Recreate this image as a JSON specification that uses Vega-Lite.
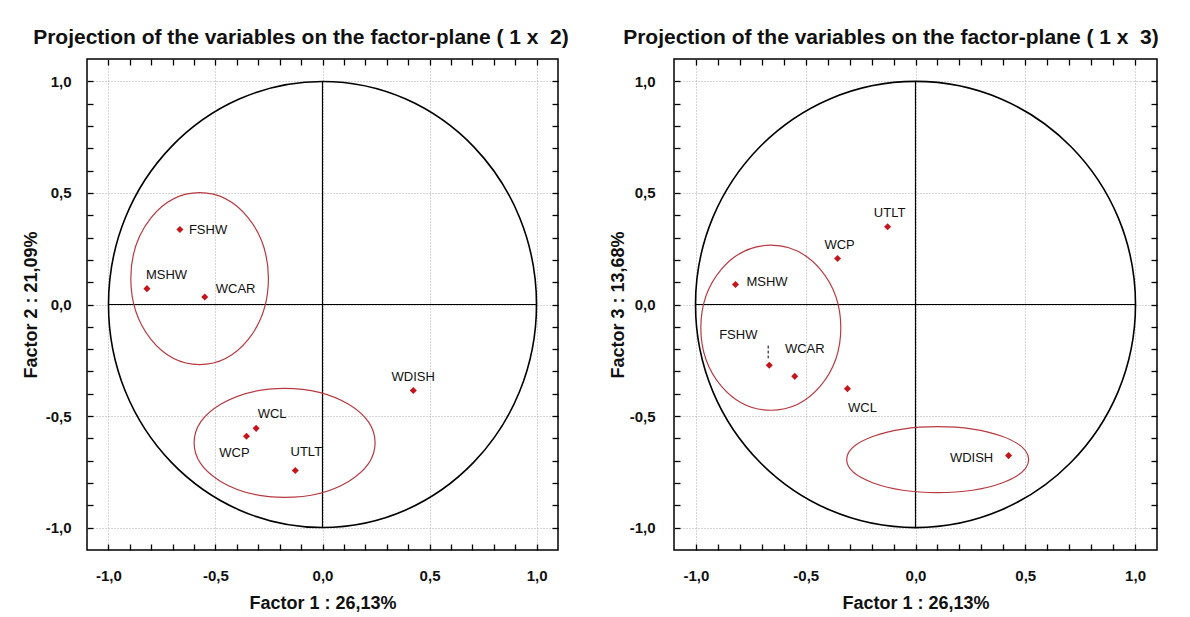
{
  "$schema": "https://vega.github.io/schema/vega-lite/v6.json",
  "background": "white",
  "padding": {"left": 21, "top": 26, "right": 5, "bottom": 5},
  "spacing": 38,
  "config": {
    "locale": {"number": {"decimal": ",", "thousands": ".", "grouping": [3], "currency": ["", ""], "minus": "-"}},
    "view": {"stroke": "#000", "strokeWidth": 1.5},
    "font": "Liberation Sans",
    "title": {"font": "Liberation Sans", "fontSize": 21, "fontWeight": "bold", "color": "#111", "anchor": "start", "offset": 10},
    "axis": {
      "labelFont": "Liberation Sans", "labelFontSize": 15, "labelFontWeight": "bold", "labelColor": "#111",
      "titleFont": "Liberation Sans", "titleFontSize": 18, "titleFontWeight": "bold", "titleColor": "#111",
      "ticks": true, "tickColor": "#000", "tickWidth": 1.3, "tickOpacity": 1, "domain": false, "labelOverlap": false, "labelFlush": false,
      "gridColor": "#aaa", "gridDash": [1, 2], "gridWidth": 1, "zindex": 1
    },
    "text": {"font": "Liberation Sans", "fontSize": 13, "color": "#111", "baseline": "middle"}
  },
  "datasets": {
    "pts": [
      {"name": "FSHW", "f1": -0.666, "f2": 0.336, "f3": -0.272},
      {"name": "MSHW", "f1": -0.82, "f2": 0.071, "f3": 0.09},
      {"name": "WCAR", "f1": -0.55, "f2": 0.034, "f3": -0.322},
      {"name": "WDISH", "f1": 0.424, "f2": -0.385, "f3": -0.677},
      {"name": "WCL", "f1": -0.31, "f2": -0.555, "f3": -0.377},
      {"name": "WCP", "f1": -0.355, "f2": -0.59, "f3": 0.206},
      {"name": "UTLT", "f1": -0.127, "f2": -0.744, "f3": 0.348}
    ],
    "axes": [
      {"x": -1, "x2": 1, "y": 0, "y2": 0},
      {"x": 0, "x2": 0, "y": -1, "y2": 1}
    ]
  },
  "hconcat": [
    {
      "width": 471,
      "height": 491,
      "title": {"text": "Projection of the variables on the factor-plane (\u00a01 x \u00a02)", "dx": 11},
      "resolve": {"axis": {"x": "independent", "y": "independent"}},
      "layer": [
        {
          "data": {"values": [{"x": 0, "y": 0}]},
          "mark": {"type": "point", "shape": "M -1 0 A 1 1.042 0 1 1 1 0 A 1 1.042 0 1 1 -1 0 Z", "size": 183184, "filled": false, "stroke": "#000", "strokeWidth": 1.6, "opacity": 1},
          "encoding": {
            "x": {"field": "x", "type": "quantitative", "scale": {"domain": [-1.1, 1.1], "nice": false, "zero": false},
              "axis": {"orient": "bottom", "title": "Factor 1 : 26,13%", "values": [-1, -0.9, -0.8, -0.7, -0.6, -0.5, -0.4, -0.3, -0.2, -0.1, 0, 0.1, 0.2, 0.3, 0.4, 0.5, 0.6, 0.7, 0.8, 0.9, 1], "format": ".1f",
                "labelExpr": "abs(datum.value*2-round(datum.value*2))<0.001 ? datum.label : ''",
                "tickSize": -6, "labelPadding": 24, "titlePadding": 11, "grid": true,
                "gridOpacity": {"condition": {"test": "abs(datum.value*2-round(datum.value*2))<0.001", "value": 1}, "value": 0}}},
            "y": {"field": "y", "type": "quantitative", "scale": {"domain": [-1.1, 1.1], "nice": false, "zero": false},
              "axis": {"orient": "left", "title": "Factor 2 : 21,09%", "values": [-1, -0.9, -0.8, -0.7, -0.6, -0.5, -0.4, -0.3, -0.2, -0.1, 0, 0.1, 0.2, 0.3, 0.4, 0.5, 0.6, 0.7, 0.8, 0.9, 1], "format": ".1f",
                "labelExpr": "abs(datum.value*2-round(datum.value*2))<0.001 ? datum.label : ''",
                "tickSize": -6, "labelPadding": 22, "titlePadding": 5, "grid": true,
                "gridOpacity": {"condition": {"test": "abs(datum.value*2-round(datum.value*2))<0.001", "value": 1}, "value": 0}}}
          }
        },
        {
          "data": {"name": "axes"},
          "mark": {"type": "rule", "color": "#000", "strokeWidth": 1.2},
          "encoding": {
            "x": {"field": "x", "type": "quantitative", "axis": {"orient": "top", "values": [-1, -0.9, -0.8, -0.7, -0.6, -0.5, -0.4, -0.3, -0.2, -0.1, 0, 0.1, 0.2, 0.3, 0.4, 0.5, 0.6, 0.7, 0.8, 0.9, 1], "labels": false, "title": null, "tickSize": -6, "grid": false}},
            "x2": {"field": "x2"},
            "y": {"field": "y", "type": "quantitative", "axis": {"orient": "right", "values": [-1, -0.9, -0.8, -0.7, -0.6, -0.5, -0.4, -0.3, -0.2, -0.1, 0, 0.1, 0.2, 0.3, 0.4, 0.5, 0.6, 0.7, 0.8, 0.9, 1], "labels": false, "title": null, "tickSize": -6, "grid": false}},
            "y2": {"field": "y2"}
          }
        },
        {
          "data": {"values": [{"cx": -0.574, "cy": 0.116}]},
          "mark": {"type": "point", "shape": "M -1 0 A 1 1.25 0 1 1 1 0 A 1 1.25 0 1 1 -1 0 Z", "size": 18934, "filled": false, "stroke": "#b83a42", "strokeWidth": 1.2, "opacity": 1},
          "encoding": {"x": {"field": "cx", "type": "quantitative", "axis": null}, "y": {"field": "cy", "type": "quantitative", "axis": null}}
        },
        {
          "data": {"values": [{"cx": -0.177, "cy": -0.62}]},
          "mark": {"type": "point", "shape": "M -1 0 A 1 0.602 0 1 1 1 0 A 1 0.602 0 1 1 -1 0 Z", "size": 32761, "filled": false, "stroke": "#b83a42", "strokeWidth": 1.2, "opacity": 1},
          "encoding": {"x": {"field": "cx", "type": "quantitative", "axis": null}, "y": {"field": "cy", "type": "quantitative", "axis": null}}
        },
        {
          "data": {"name": "pts"},
          "mark": {"type": "point", "shape": "diamond", "size": 50, "filled": true, "color": "#c4161c", "opacity": 1},
          "encoding": {"x": {"field": "f1", "type": "quantitative", "axis": null}, "y": {"field": "f2", "type": "quantitative", "axis": null}}
        },
        {
          "data": {"name": "pts"},
          "transform": [{"filter": "datum.name === 'FSHW'"}],
          "mark": {"type": "text", "align": "left", "dx": 9, "dy": 0},
          "encoding": {"x": {"field": "f1", "type": "quantitative", "axis": null}, "y": {"field": "f2", "type": "quantitative", "axis": null}, "text": {"field": "name"}}
        },
        {
          "data": {"name": "pts"},
          "transform": [{"filter": "datum.name === 'MSHW'"}],
          "mark": {"type": "text", "align": "left", "dx": -1, "dy": -14},
          "encoding": {"x": {"field": "f1", "type": "quantitative", "axis": null}, "y": {"field": "f2", "type": "quantitative", "axis": null}, "text": {"field": "name"}}
        },
        {
          "data": {"name": "pts"},
          "transform": [{"filter": "datum.name === 'WCAR'"}],
          "mark": {"type": "text", "align": "left", "dx": 11, "dy": -8},
          "encoding": {"x": {"field": "f1", "type": "quantitative", "axis": null}, "y": {"field": "f2", "type": "quantitative", "axis": null}, "text": {"field": "name"}}
        },
        {
          "data": {"name": "pts"},
          "transform": [{"filter": "datum.name === 'WDISH'"}],
          "mark": {"type": "text", "align": "center", "dx": 0, "dy": -13},
          "encoding": {"x": {"field": "f1", "type": "quantitative", "axis": null}, "y": {"field": "f2", "type": "quantitative", "axis": null}, "text": {"field": "name"}}
        },
        {
          "data": {"name": "pts"},
          "transform": [{"filter": "datum.name === 'WCL'"}],
          "mark": {"type": "text", "align": "center", "dx": 16, "dy": -14},
          "encoding": {"x": {"field": "f1", "type": "quantitative", "axis": null}, "y": {"field": "f2", "type": "quantitative", "axis": null}, "text": {"field": "name"}}
        },
        {
          "data": {"name": "pts"},
          "transform": [{"filter": "datum.name === 'WCP'"}],
          "mark": {"type": "text", "align": "center", "dx": -12, "dy": 17},
          "encoding": {"x": {"field": "f1", "type": "quantitative", "axis": null}, "y": {"field": "f2", "type": "quantitative", "axis": null}, "text": {"field": "name"}}
        },
        {
          "data": {"name": "pts"},
          "transform": [{"filter": "datum.name === 'UTLT'"}],
          "mark": {"type": "text", "align": "center", "dx": 11, "dy": -19},
          "encoding": {"x": {"field": "f1", "type": "quantitative", "axis": null}, "y": {"field": "f2", "type": "quantitative", "axis": null}, "text": {"field": "name"}}
        }
      ]
    },
    {
      "width": 483,
      "height": 491,
      "title": {"text": "Projection of the variables on the factor-plane (\u00a01 x \u00a03)", "dx": 14},
      "resolve": {"axis": {"x": "independent", "y": "independent"}},
      "layer": [
        {
          "data": {"values": [{"x": 0, "y": 0}]},
          "mark": {"type": "point", "shape": "M -1 0 A 1 1.014 0 1 1 1 0 A 1 1.014 0 1 1 -1 0 Z", "size": 193600, "filled": false, "stroke": "#000", "strokeWidth": 1.6, "opacity": 1},
          "encoding": {
            "x": {"field": "x", "type": "quantitative", "scale": {"domain": [-1.1, 1.1], "nice": false, "zero": false},
              "axis": {"orient": "bottom", "title": "Factor 1 : 26,13%", "values": [-1, -0.9, -0.8, -0.7, -0.6, -0.5, -0.4, -0.3, -0.2, -0.1, 0, 0.1, 0.2, 0.3, 0.4, 0.5, 0.6, 0.7, 0.8, 0.9, 1], "format": ".1f",
                "labelExpr": "abs(datum.value*2-round(datum.value*2))<0.001 ? datum.label : ''",
                "tickSize": -6, "labelPadding": 24, "titlePadding": 11, "grid": true,
                "gridOpacity": {"condition": {"test": "abs(datum.value*2-round(datum.value*2))<0.001", "value": 1}, "value": 0}}},
            "y": {"field": "y", "type": "quantitative", "scale": {"domain": [-1.1, 1.1], "nice": false, "zero": false},
              "axis": {"orient": "left", "title": "Factor 3 : 13,68%", "values": [-1, -0.9, -0.8, -0.7, -0.6, -0.5, -0.4, -0.3, -0.2, -0.1, 0, 0.1, 0.2, 0.3, 0.4, 0.5, 0.6, 0.7, 0.8, 0.9, 1], "format": ".1f",
                "labelExpr": "abs(datum.value*2-round(datum.value*2))<0.001 ? datum.label : ''",
                "tickSize": -6, "labelPadding": 25, "titlePadding": 2, "grid": true,
                "gridOpacity": {"condition": {"test": "abs(datum.value*2-round(datum.value*2))<0.001", "value": 1}, "value": 0}}}
          }
        },
        {
          "data": {"name": "axes"},
          "mark": {"type": "rule", "color": "#000", "strokeWidth": 1.2},
          "encoding": {
            "x": {"field": "x", "type": "quantitative", "axis": {"orient": "top", "values": [-1, -0.9, -0.8, -0.7, -0.6, -0.5, -0.4, -0.3, -0.2, -0.1, 0, 0.1, 0.2, 0.3, 0.4, 0.5, 0.6, 0.7, 0.8, 0.9, 1], "labels": false, "title": null, "tickSize": -6, "grid": false}},
            "x2": {"field": "x2"},
            "y": {"field": "y", "type": "quantitative", "axis": {"orient": "right", "values": [-1, -0.9, -0.8, -0.7, -0.6, -0.5, -0.4, -0.3, -0.2, -0.1, 0, 0.1, 0.2, 0.3, 0.4, 0.5, 0.6, 0.7, 0.8, 0.9, 1], "labels": false, "title": null, "tickSize": -6, "grid": false}},
            "y2": {"field": "y2"}
          }
        },
        {
          "data": {"values": [{"cx": -0.659, "cy": -0.104}]},
          "mark": {"type": "point", "shape": "M -1 0 A 1 1.179 0 1 1 1 0 A 1 1.179 0 1 1 -1 0 Z", "size": 19600, "filled": false, "stroke": "#b83a42", "strokeWidth": 1.2, "opacity": 1},
          "encoding": {"x": {"field": "cx", "type": "quantitative", "axis": null}, "y": {"field": "cy", "type": "quantitative", "axis": null}}
        },
        {
          "data": {"values": [{"cx": 0.101, "cy": -0.695}]},
          "mark": {"type": "point", "shape": "M -1 0 A 1 0.363 0 1 1 1 0 A 1 0.363 0 1 1 -1 0 Z", "size": 33124, "filled": false, "stroke": "#b83a42", "strokeWidth": 1.2, "opacity": 1},
          "encoding": {"x": {"field": "cx", "type": "quantitative", "axis": null}, "y": {"field": "cy", "type": "quantitative", "axis": null}}
        },
        {
          "data": {"values": [{"x": -0.671, "y": -0.184, "y2": -0.241}]},
          "mark": {"type": "rule", "color": "#000", "strokeWidth": 1, "strokeDash": [3, 2]},
          "encoding": {"x": {"field": "x", "type": "quantitative", "axis": null}, "y": {"field": "y", "type": "quantitative", "axis": null}, "y2": {"field": "y2"}}
        },
        {
          "data": {"name": "pts"},
          "mark": {"type": "point", "shape": "diamond", "size": 50, "filled": true, "color": "#c4161c", "opacity": 1},
          "encoding": {"x": {"field": "f1", "type": "quantitative", "axis": null}, "y": {"field": "f3", "type": "quantitative", "axis": null}}
        },
        {
          "data": {"name": "pts"},
          "transform": [{"filter": "datum.name === 'UTLT' || datum.name === 'WCP'"}],
          "mark": {"type": "text", "align": "center", "dx": 2, "dy": -14},
          "encoding": {"x": {"field": "f1", "type": "quantitative", "axis": null}, "y": {"field": "f3", "type": "quantitative", "axis": null}, "text": {"field": "name"}}
        },
        {
          "data": {"name": "pts"},
          "transform": [{"filter": "datum.name === 'MSHW'"}],
          "mark": {"type": "text", "align": "left", "dx": 11, "dy": -2},
          "encoding": {"x": {"field": "f1", "type": "quantitative", "axis": null}, "y": {"field": "f3", "type": "quantitative", "axis": null}, "text": {"field": "name"}}
        },
        {
          "data": {"name": "pts"},
          "transform": [{"filter": "datum.name === 'FSHW'"}],
          "mark": {"type": "text", "align": "center", "dx": -31, "dy": -30},
          "encoding": {"x": {"field": "f1", "type": "quantitative", "axis": null}, "y": {"field": "f3", "type": "quantitative", "axis": null}, "text": {"field": "name"}}
        },
        {
          "data": {"name": "pts"},
          "transform": [{"filter": "datum.name === 'WCAR'"}],
          "mark": {"type": "text", "align": "center", "dx": 10, "dy": -27},
          "encoding": {"x": {"field": "f1", "type": "quantitative", "axis": null}, "y": {"field": "f3", "type": "quantitative", "axis": null}, "text": {"field": "name"}}
        },
        {
          "data": {"name": "pts"},
          "transform": [{"filter": "datum.name === 'WCL'"}],
          "mark": {"type": "text", "align": "center", "dx": 15, "dy": 19},
          "encoding": {"x": {"field": "f1", "type": "quantitative", "axis": null}, "y": {"field": "f3", "type": "quantitative", "axis": null}, "text": {"field": "name"}}
        },
        {
          "data": {"name": "pts"},
          "transform": [{"filter": "datum.name === 'WDISH'"}],
          "mark": {"type": "text", "align": "center", "dx": -37, "dy": 2},
          "encoding": {"x": {"field": "f1", "type": "quantitative", "axis": null}, "y": {"field": "f3", "type": "quantitative", "axis": null}, "text": {"field": "name"}}
        }
      ]
    }
  ]
}
